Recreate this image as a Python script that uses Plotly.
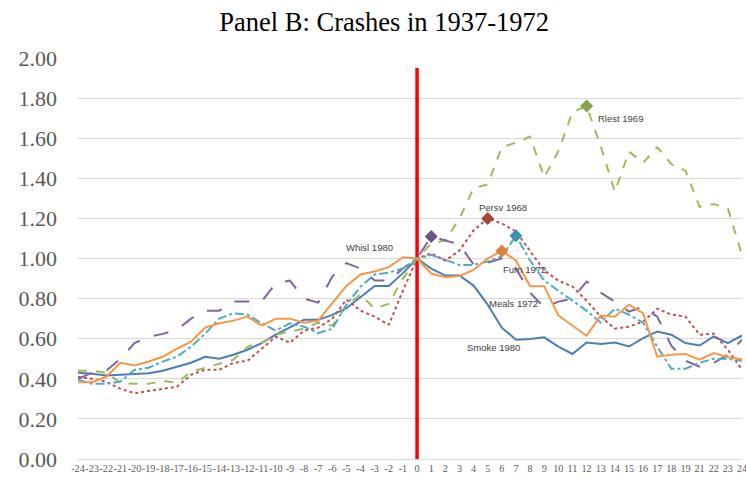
import plotly.graph_objects as go

# Event-time categories (note: the source axis skips 20)
categories = [str(v) for v in range(-24, 20)] + ["21", "22", "23", "24"]

smoke_1980 = [0.43, 0.425, 0.416, 0.42, 0.425, 0.428, 0.44, 0.46, 0.48, 0.51, 0.50, 0.52,
              0.545, 0.578, 0.62, 0.657, 0.694, 0.694, 0.719, 0.752, 0.807, 0.863, 0.863, 0.927,
              1.00,
              0.95, 0.915, 0.915, 0.865, 0.77, 0.655, 0.595, 0.598, 0.607, 0.561, 0.524, 0.581,
              0.574, 0.581, 0.561, 0.603, 0.636, 0.62, 0.578,
              0.566, 0.611, 0.578, 0.616]

persv_1968 = [0.41, 0.40, 0.385, 0.35, 0.328, 0.34, 0.35, 0.36, 0.42, 0.445, 0.445, 0.48,
              0.49, 0.55, 0.61, 0.58, 0.64, 0.655, 0.70, 0.795, 0.74, 0.71, 0.67, 0.84,
              1.00,
              1.026, 0.99, 1.04, 1.14, 1.20, 1.175, 1.135, 1.04, 0.94, 0.89, 0.86, 0.79,
              0.71, 0.65, 0.66, 0.685, 0.75, 0.72, 0.71,
              0.62, 0.625, 0.545, 0.445]

rlest_1969 = [0.44, 0.44, 0.43, 0.38, 0.375, 0.375, 0.39, 0.38, 0.435, 0.455, 0.475, 0.495,
              0.56, 0.58, 0.62, 0.635, 0.65, 0.68, 0.665, 0.765, 0.82, 0.75, 0.775, 0.90,
              1.00,
              1.075, 1.09, 1.20, 1.35, 1.37, 1.555, 1.578, 1.608, 1.405, 1.535, 1.73, 1.76,
              1.56, 1.333, 1.533, 1.478, 1.555, 1.47, 1.438,
              1.258, 1.272, 1.25, 1.018]

whisl_1980 = [0.40, 0.43, 0.44, 0.50, 0.578, 0.61, 0.624, 0.644, 0.70, 0.74, 0.74, 0.785,
              0.785, 0.785, 0.877, 0.89, 0.80, 0.78, 0.91, 0.977, 0.95, 0.89, 0.89, 0.95,
              1.00,
              1.11, 1.09, 1.07, 0.97, 0.98, 1.00, 0.95, 0.83, 0.755, 0.785, 0.80, 0.885,
              0.83, 0.785, 0.735, 0.76, 0.71, 0.565, 0.49,
              0.46, 0.48, 0.52, 0.595]

furn_1972 = [0.395, 0.375, 0.375, 0.386, 0.445, 0.455, 0.486, 0.51, 0.56, 0.625, 0.70, 0.727,
             0.72, 0.677, 0.64, 0.677, 0.66, 0.628, 0.65, 0.77, 0.86, 0.92, 0.93, 0.95,
             1.00,
             1.018, 0.993, 0.968, 0.968, 0.985, 1.01, 1.113, 0.99, 0.89, 0.84, 0.79, 0.74,
             0.68, 0.75, 0.72, 0.68, 0.56, 0.45, 0.45,
             0.48, 0.50, 0.50, 0.49]

meals_1972 = [0.383, 0.383, 0.41, 0.48, 0.466, 0.486, 0.51, 0.55, 0.585, 0.655, 0.677, 0.69,
              0.71, 0.665, 0.70, 0.70, 0.68, 0.69, 0.777, 0.863, 0.92, 0.935, 0.957, 1.006,
              1.00,
              0.925, 0.907, 0.913, 0.943, 1.00, 1.038, 0.99, 0.862, 0.862, 0.716, 0.665, 0.615,
              0.716, 0.71, 0.77, 0.727, 0.51, 0.52, 0.524,
              0.495, 0.528, 0.508, 0.498]

event_line_y = [0.0, 1.95]

series = [
    # name, values, colour, dash, marker colour, marker category
    ("Smoke 1980", smoke_1980, "#4A7EBB", "solid", None, None),
    ("Persv 1968", persv_1968, "#C0504D", "dot", "#A8423F", "5"),
    ("Rlest 1969", rlest_1969, "#9BBB59", "dash", "#86A44A", "12"),
    ("Whisl 1980", whisl_1980, "#8064A2", "longdash", "#6B5288", "1"),
    ("Furn 1972", furn_1972, "#4BACC6", "dashdot", "#3C94AC", "7"),
    ("Meals 1972", meals_1972, "#F79646", "solid", "#E0823A", "6"),
]

fig = go.Figure()

fig.add_trace(go.Scatter(x=["0", "0"], y=event_line_y, mode="lines",
                         line=dict(color="#FF0000", width=3.5),
                         showlegend=False, hoverinfo="skip"))

for name, vals, col, dash, mcol, mcat in series:
    fig.add_trace(go.Scatter(x=categories, y=vals, mode="lines", name=name,
                             line=dict(color=col, width=2, dash=dash),
                             showlegend=False))

for name, vals, col, dash, mcol, mcat in series:
    if mcat is None:
        continue
    idx = categories.index(mcat)
    fig.add_trace(go.Scatter(x=[mcat], y=[vals[idx]], mode="markers",
                             marker=dict(symbol="diamond", size=10, color=mcol),
                             showlegend=False, hoverinfo="skip"))

labels = [
    ("Whisl 1980", 20.6, 1.054),
    ("Persv 1968", 30.1, 1.252),
    ("Rlest 1969", 38.4, 1.70),
    ("Furn 1972", 31.6, 0.943),
    ("Meals 1972", 30.8, 0.774),
    ("Smoke 1980", 29.4, 0.555),
]
for text, lx, ly in labels:
    fig.add_annotation(x=lx, y=ly, xref="x", yref="y", text=text, showarrow=False,
                       font=dict(family="Liberation Sans", size=9.5, color="#404040"))

fig.update_layout(
    width=746, height=478,
    margin=dict(l=78, r=4, t=58, b=19, autoexpand=False),
    paper_bgcolor="white", plot_bgcolor="white",
    title=dict(text="Panel B: Crashes in 1937-1972", x=0.515, xanchor="center",
               xref="container", y=0.954, yref="container", yanchor="middle",
               font=dict(family="Liberation Serif", size=26.5, color="black")),
    xaxis=dict(type="category", categoryorder="array", categoryarray=categories,
               automargin=False,
               showgrid=False, showline=True, linecolor="#D9D9D9", linewidth=1,
               tickfont=dict(family="Liberation Serif", size=10.2, color="#595959"),
               tickangle=0, ticks=""),
    yaxis=dict(range=[0, 2.0], dtick=0.2, tick0=0, tickformat=".2f",
               automargin=False,
               showgrid=True, gridcolor="#D9D9D9", gridwidth=1, zeroline=False,
               showline=False, ticks="", ticklabelstandoff=20,
               tickfont=dict(family="Liberation Serif", size=22, color="#595959")),
)

fig.write_html("out.html",
               config={"displayModeBar": False},
               post_script="document.body.style.margin='0px';"
                           "document.body.style.overflow='hidden';")
